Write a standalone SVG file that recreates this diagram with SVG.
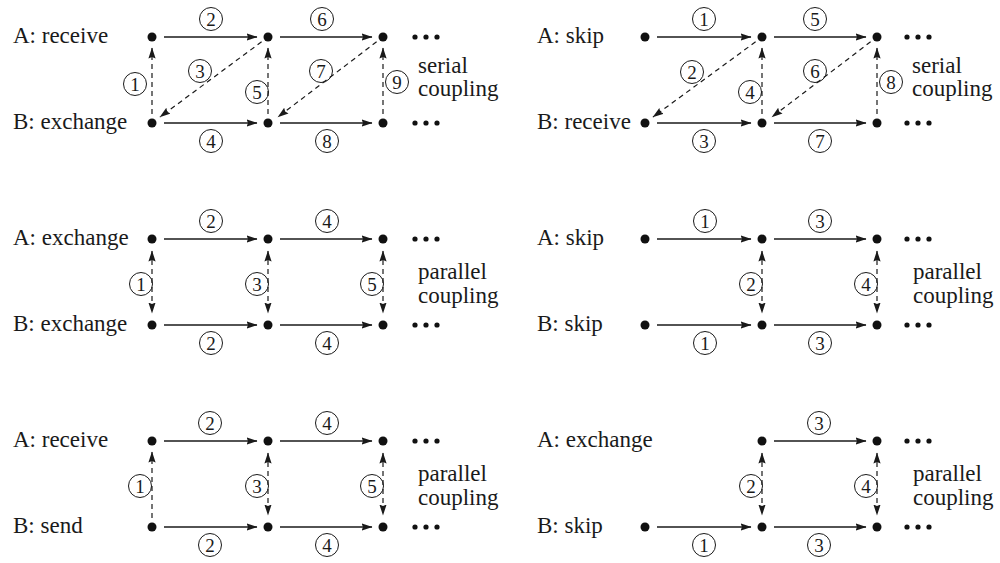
<svg xmlns="http://www.w3.org/2000/svg" width="1000" height="563" viewBox="0 0 1000 563">
  <style>
    text { font-family: 'Liberation Serif', 'Tinos', 'Nimbus Roman', 'FreeSerif', 'Noto Serif', 'DejaVu Serif', 'Times New Roman', Times, serif; }
    .t { font-size: 23px; fill: #1a1a1a; }
    .n { font-size: 19px; fill: #1a1a1a; text-anchor: middle; }
    .ring { fill: none; stroke: #1a1a1a; stroke-width: 1; }
    .dot { fill: #111111; }
    .ell { fill: #111111; }
    .s { fill: none; stroke: #1a1a1a; stroke-width: 1.3; marker-end: url(#ah); }
    .d { fill: none; stroke: #1a1a1a; stroke-width: 1.2; stroke-dasharray: 5 4; marker-end: url(#ah); }
    .dd { fill: none; stroke: #1a1a1a; stroke-width: 1.2; stroke-dasharray: 5 4; marker-start: url(#ah); marker-end: url(#ah); }
  </style>
  <defs>
    <marker id="ah" markerUnits="userSpaceOnUse" markerWidth="12" markerHeight="9" refX="10.5" refY="4" orient="auto-start-reverse">
      <path d="M0,0.4 L11,4 L0,7.6 L1.5,4 z" fill="#1a1a1a"/>
    </marker>
    <g id="ellipsis">
      <circle class="ell" cx="0" cy="0" r="2.6"/>
      <circle class="ell" cx="11" cy="0" r="2.6"/>
      <circle class="ell" cx="22" cy="0" r="2.6"/>
    </g>
  </defs>
  <rect x="0" y="0" width="1000" height="563" fill="#ffffff"/>

  <!-- row labels and coupling notes -->
  <g id="texts">
    <text class="t" x="13" y="43">A: receive</text>
    <text class="t" x="13" y="129">B: exchange</text>
    <text class="t" x="418" y="73">serial</text>
    <text class="t" x="418" y="96">coupling</text>

    <text class="t" x="537" y="43">A: skip</text>
    <text class="t" x="537" y="129">B: receive</text>
    <text class="t" x="912" y="73">serial</text>
    <text class="t" x="912" y="96">coupling</text>

    <text class="t" x="13" y="245">A: exchange</text>
    <text class="t" x="13" y="331">B: exchange</text>
    <text class="t" x="418" y="279">parallel</text>
    <text class="t" x="418" y="303">coupling</text>

    <text class="t" x="537" y="245">A: skip</text>
    <text class="t" x="537" y="331">B: skip</text>
    <text class="t" x="913" y="279">parallel</text>
    <text class="t" x="913" y="303">coupling</text>

    <text class="t" x="13" y="447">A: receive</text>
    <text class="t" x="13" y="533">B: send</text>
    <text class="t" x="418" y="481">parallel</text>
    <text class="t" x="418" y="505">coupling</text>

    <text class="t" x="537" y="447">A: exchange</text>
    <text class="t" x="537" y="533">B: skip</text>
    <text class="t" x="913" y="481">parallel</text>
    <text class="t" x="913" y="505">coupling</text>
  </g>

  <!-- connectors -->
  <g id="connectors">
    <!-- top left: serial, A receive / B exchange -->
    <path class="s" d="M164 37 H257"/>
    <path class="s" d="M280 37 H372"/>
    <path class="s" d="M164 123 H257"/>
    <path class="s" d="M280 123 H372"/>
    <path class="d" d="M152 114 V48"/>
    <path class="d" d="M261.6 41.8 L160 117"/>
    <path class="d" d="M268 114 V48"/>
    <path class="d" d="M376.6 41.8 L278 117"/>
    <path class="d" d="M383 114 V48"/>

    <!-- top right: serial, A skip / B receive -->
    <path class="s" d="M657 37 H751"/>
    <path class="s" d="M774 37 H866"/>
    <path class="s" d="M657 123 H751"/>
    <path class="s" d="M774 123 H866"/>
    <path class="d" d="M755.6 41.8 L653 117"/>
    <path class="d" d="M762 114 V48"/>
    <path class="d" d="M870.6 41.8 L772 117"/>
    <path class="d" d="M877 114 V48"/>

    <!-- middle left: parallel, exchange / exchange -->
    <path class="s" d="M164 239 H257"/>
    <path class="s" d="M280 239 H372"/>
    <path class="s" d="M164 325 H257"/>
    <path class="s" d="M280 325 H372"/>
    <path class="dd" d="M152 251 V313"/>
    <path class="dd" d="M268 251 V313"/>
    <path class="dd" d="M383 251 V313"/>

    <!-- middle right: parallel, skip / skip -->
    <path class="s" d="M657 239 H751"/>
    <path class="s" d="M774 239 H866"/>
    <path class="s" d="M657 325 H751"/>
    <path class="s" d="M774 325 H866"/>
    <path class="dd" d="M762 251 V313"/>
    <path class="dd" d="M877 251 V313"/>

    <!-- bottom left: parallel, receive / send -->
    <path class="s" d="M164 441 H257"/>
    <path class="s" d="M280 441 H372"/>
    <path class="s" d="M164 527 H257"/>
    <path class="s" d="M280 527 H372"/>
    <path class="d" d="M152 518 V452"/>
    <path class="dd" d="M268 453 V515"/>
    <path class="dd" d="M383 453 V515"/>

    <!-- bottom right: parallel, exchange / skip -->
    <path class="s" d="M774 441 H866"/>
    <path class="s" d="M657 527 H751"/>
    <path class="s" d="M774 527 H866"/>
    <path class="dd" d="M762 453 V515"/>
    <path class="dd" d="M877 453 V515"/>

    <!-- step numbers -->
    <g id="steps">
      <!-- top left -->
      <circle class="ring" cx="211" cy="19" r="11.5"/><text class="n" x="211" y="26">2</text>
      <circle class="ring" cx="322" cy="19" r="11.5"/><text class="n" x="322" y="26">6</text>
      <circle class="ring" cx="211" cy="141" r="11.5"/><text class="n" x="211" y="148">4</text>
      <circle class="ring" cx="327" cy="141" r="11.5"/><text class="n" x="327" y="148">8</text>
      <circle class="ring" cx="135" cy="84" r="11.5"/><text class="n" x="135" y="91">1</text>
      <circle class="ring" cx="200" cy="71" r="11.5"/><text class="n" x="200" y="78">3</text>
      <circle class="ring" cx="257" cy="92" r="11.5"/><text class="n" x="257" y="99">5</text>
      <circle class="ring" cx="321" cy="71" r="11.5"/><text class="n" x="321" y="78">7</text>
      <circle class="ring" cx="397" cy="82" r="11.5"/><text class="n" x="397" y="89">9</text>

      <!-- top right -->
      <circle class="ring" cx="704" cy="19" r="11.5"/><text class="n" x="704" y="26">1</text>
      <circle class="ring" cx="815" cy="19" r="11.5"/><text class="n" x="815" y="26">5</text>
      <circle class="ring" cx="704" cy="141" r="11.5"/><text class="n" x="704" y="148">3</text>
      <circle class="ring" cx="820" cy="141" r="11.5"/><text class="n" x="820" y="148">7</text>
      <circle class="ring" cx="692" cy="72" r="11.5"/><text class="n" x="692" y="79">2</text>
      <circle class="ring" cx="750" cy="92" r="11.5"/><text class="n" x="750" y="99">4</text>
      <circle class="ring" cx="815" cy="71" r="11.5"/><text class="n" x="815" y="78">6</text>
      <circle class="ring" cx="891" cy="82" r="11.5"/><text class="n" x="891" y="89">8</text>

      <!-- middle left -->
      <circle class="ring" cx="211" cy="221" r="11.5"/><text class="n" x="211" y="228">2</text>
      <circle class="ring" cx="327" cy="221" r="11.5"/><text class="n" x="327" y="228">4</text>
      <circle class="ring" cx="211" cy="343" r="11.5"/><text class="n" x="211" y="350">2</text>
      <circle class="ring" cx="327" cy="343" r="11.5"/><text class="n" x="327" y="350">4</text>
      <circle class="ring" cx="141" cy="284" r="11.5"/><text class="n" x="141" y="291">1</text>
      <circle class="ring" cx="257" cy="284" r="11.5"/><text class="n" x="257" y="291">3</text>
      <circle class="ring" cx="372" cy="284" r="11.5"/><text class="n" x="372" y="291">5</text>

      <!-- middle right -->
      <circle class="ring" cx="705" cy="221" r="11.5"/><text class="n" x="705" y="228">1</text>
      <circle class="ring" cx="820" cy="221" r="11.5"/><text class="n" x="820" y="228">3</text>
      <circle class="ring" cx="705" cy="343" r="11.5"/><text class="n" x="705" y="350">1</text>
      <circle class="ring" cx="820" cy="343" r="11.5"/><text class="n" x="820" y="350">3</text>
      <circle class="ring" cx="751" cy="284" r="11.5"/><text class="n" x="751" y="291">2</text>
      <circle class="ring" cx="866" cy="284" r="11.5"/><text class="n" x="866" y="291">4</text>

      <!-- bottom left -->
      <circle class="ring" cx="210" cy="423" r="11.5"/><text class="n" x="210" y="430">2</text>
      <circle class="ring" cx="327" cy="423" r="11.5"/><text class="n" x="327" y="430">4</text>
      <circle class="ring" cx="210" cy="545" r="11.5"/><text class="n" x="210" y="552">2</text>
      <circle class="ring" cx="327" cy="545" r="11.5"/><text class="n" x="327" y="552">4</text>
      <circle class="ring" cx="140" cy="486" r="11.5"/><text class="n" x="140" y="493">1</text>
      <circle class="ring" cx="257" cy="486" r="11.5"/><text class="n" x="257" y="493">3</text>
      <circle class="ring" cx="372" cy="486" r="11.5"/><text class="n" x="372" y="493">5</text>

      <!-- bottom right -->
      <circle class="ring" cx="819" cy="423" r="11.5"/><text class="n" x="819" y="430">3</text>
      <circle class="ring" cx="704" cy="545" r="11.5"/><text class="n" x="704" y="552">1</text>
      <circle class="ring" cx="819" cy="545" r="11.5"/><text class="n" x="819" y="552">3</text>
      <circle class="ring" cx="751" cy="486" r="11.5"/><text class="n" x="751" y="493">2</text>
      <circle class="ring" cx="866" cy="486" r="11.5"/><text class="n" x="866" y="493">4</text>
    </g>

    <!-- continuation marks -->
    <use href="#ellipsis" x="415" y="37"/>
    <use href="#ellipsis" x="415" y="123"/>
    <use href="#ellipsis" x="907" y="37"/>
    <use href="#ellipsis" x="907" y="123"/>
    <use href="#ellipsis" x="415" y="239"/>
    <use href="#ellipsis" x="415" y="325"/>
    <use href="#ellipsis" x="907" y="239"/>
    <use href="#ellipsis" x="907" y="325"/>
    <use href="#ellipsis" x="415" y="441"/>
    <use href="#ellipsis" x="415" y="527"/>
    <use href="#ellipsis" x="907" y="441"/>
    <use href="#ellipsis" x="907" y="527"/>
  </g>

  <!-- nodes -->
  <g id="tl-a1"><circle class="dot" cx="152" cy="37" r="4.5"/></g>
  <g id="tl-a2"><circle class="dot" cx="268" cy="37" r="4.5"/></g>
  <g id="tl-a3"><circle class="dot" cx="383" cy="37" r="4.5"/></g>
  <g id="tl-b1"><circle class="dot" cx="152" cy="123" r="4.5"/></g>
  <g id="tl-b2"><circle class="dot" cx="268" cy="123" r="4.5"/></g>
  <g id="tl-b3"><circle class="dot" cx="383" cy="123" r="4.5"/></g>

  <g id="tr-a1"><circle class="dot" cx="645" cy="37" r="4.5"/></g>
  <g id="tr-a2"><circle class="dot" cx="762" cy="37" r="4.5"/></g>
  <g id="tr-a3"><circle class="dot" cx="877" cy="37" r="4.5"/></g>
  <g id="tr-b1"><circle class="dot" cx="645" cy="123" r="4.5"/></g>
  <g id="tr-b2"><circle class="dot" cx="762" cy="123" r="4.5"/></g>
  <g id="tr-b3"><circle class="dot" cx="877" cy="123" r="4.5"/></g>

  <g id="ml-a1"><circle class="dot" cx="152" cy="239" r="4.5"/></g>
  <g id="ml-a2"><circle class="dot" cx="268" cy="239" r="4.5"/></g>
  <g id="ml-a3"><circle class="dot" cx="383" cy="239" r="4.5"/></g>
  <g id="ml-b1"><circle class="dot" cx="152" cy="325" r="4.5"/></g>
  <g id="ml-b2"><circle class="dot" cx="268" cy="325" r="4.5"/></g>
  <g id="ml-b3"><circle class="dot" cx="383" cy="325" r="4.5"/></g>

  <g id="mr-a1"><circle class="dot" cx="645" cy="239" r="4.5"/></g>
  <g id="mr-a2"><circle class="dot" cx="762" cy="239" r="4.5"/></g>
  <g id="mr-a3"><circle class="dot" cx="877" cy="239" r="4.5"/></g>
  <g id="mr-b1"><circle class="dot" cx="645" cy="325" r="4.5"/></g>
  <g id="mr-b2"><circle class="dot" cx="762" cy="325" r="4.5"/></g>
  <g id="mr-b3"><circle class="dot" cx="877" cy="325" r="4.5"/></g>

  <g id="bl-a1"><circle class="dot" cx="152" cy="441" r="4.5"/></g>
  <g id="bl-a2"><circle class="dot" cx="268" cy="441" r="4.5"/></g>
  <g id="bl-a3"><circle class="dot" cx="383" cy="441" r="4.5"/></g>
  <g id="bl-b1"><circle class="dot" cx="152" cy="527" r="4.5"/></g>
  <g id="bl-b2"><circle class="dot" cx="268" cy="527" r="4.5"/></g>
  <g id="bl-b3"><circle class="dot" cx="383" cy="527" r="4.5"/></g>

  <g id="br-a2"><circle class="dot" cx="762" cy="441" r="4.5"/></g>
  <g id="br-a3"><circle class="dot" cx="877" cy="441" r="4.5"/></g>
  <g id="br-b1"><circle class="dot" cx="645" cy="527" r="4.5"/></g>
  <g id="br-b2"><circle class="dot" cx="762" cy="527" r="4.5"/></g>
  <g id="br-b3"><circle class="dot" cx="877" cy="527" r="4.5"/></g>
</svg>
